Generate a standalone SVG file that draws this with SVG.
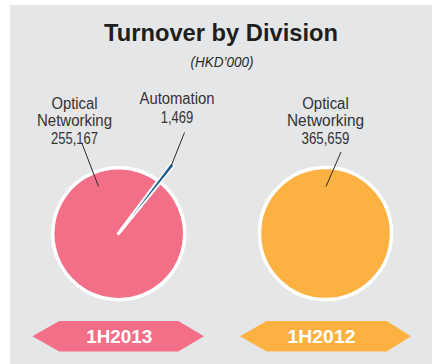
<svg xmlns="http://www.w3.org/2000/svg" width="432" height="364" viewBox="0 0 432 364">
  <style>
    .title { font-family: "Liberation Sans", Arial, sans-serif; font-weight: bold; font-size: 23px; fill: #1e1e1e; }
    .sub { font-family: "Liberation Sans", Arial, sans-serif; font-style: italic; font-size: 14px; fill: #2a2a2a; }
    .lbl { font-family: "Liberation Sans", Arial, sans-serif; font-size: 16px; fill: #333333; text-anchor: middle; }
    .tag { font-family: "Liberation Sans", Arial, sans-serif; font-weight: bold; font-size: 18.5px; fill: #ffffff; text-anchor: middle; }
    .slice { stroke: #ffffff; stroke-width: 3.5; stroke-linejoin: round; }
    .leader { stroke: #2a2a2a; stroke-width: 1; fill: none; }
  </style>

  <!-- panel background -->
  <rect x="10" y="5" width="422" height="359" fill="#e5e6e8"/>

  <g id="title">
    <text class="title" x="104" y="41" textLength="234" lengthAdjust="spacingAndGlyphs">Turnover by Division</text>
    <text class="sub" x="190.5" y="66.5" textLength="63" lengthAdjust="spacingAndGlyphs">(HKD’000)</text>
  </g>

  <!-- 1H2013 pie: Optical Networking with exploded Automation wedge -->
  <g id="pie-1h2013">
    <path class="slice" fill="#f36f88" d="M118.5 233.5 L160.09 182.24 A66 66 0 1 1 158.22 180.79 Z"/>
    <!-- white outline of the pulled-out wedge, then its fill on top -->
    <path fill="#ffffff" stroke="#ffffff" stroke-width="3" stroke-linejoin="round" d="M132.05 216.16 L170.99 164.11 A65 65 0 0 1 173.22 165.86 Z"/>
    <path fill="#1b5e8c" d="M132.05 216.16 L170.99 164.11 A65 65 0 0 1 173.22 165.86 Z"/>
  </g>

  <!-- 1H2012 pie: Optical Networking only -->
  <g id="pie-1h2012">
    <circle cx="325.5" cy="233.5" r="66" fill="#fdb141" stroke="#ffffff" stroke-width="3.5"/>
  </g>

  <g id="label-optical-2013">
    <text class="lbl" x="74.5" y="108.5" textLength="46" lengthAdjust="spacingAndGlyphs">Optical</text>
    <text class="lbl" x="74.5" y="125.5" textLength="75" lengthAdjust="spacingAndGlyphs">Networking</text>
    <text class="lbl" x="74.5" y="143.5" textLength="47" lengthAdjust="spacingAndGlyphs">255,167</text>
  </g>

  <g id="label-automation-2013">
    <text class="lbl" x="177" y="104" textLength="75" lengthAdjust="spacingAndGlyphs">Automation</text>
    <text class="lbl" x="177" y="122.5" textLength="32.5" lengthAdjust="spacingAndGlyphs">1,469</text>
  </g>

  <g id="label-optical-2012">
    <text class="lbl" x="325.5" y="108.5" textLength="46.5" lengthAdjust="spacingAndGlyphs">Optical</text>
    <text class="lbl" x="325.5" y="125.5" textLength="77" lengthAdjust="spacingAndGlyphs">Networking</text>
    <text class="lbl" x="325.5" y="143.5" textLength="48" lengthAdjust="spacingAndGlyphs">365,659</text>
  </g>

  <g id="connectors">
    <line class="leader" x1="82" y1="143.5" x2="98.5" y2="186.5"/>
    <line class="leader" x1="184.5" y1="132.5" x2="171.5" y2="165"/>
    <line class="leader" x1="341" y1="152" x2="326" y2="186.5"/>
  </g>

  <g id="tag-1h2013">
    <polygon fill="#f36f88" points="32.3,336.2 59.3,321 178.3,321 204,336.2 178.3,351.5 59.3,351.5"/>
    <text class="tag" x="119.2" y="342.7" textLength="66" lengthAdjust="spacingAndGlyphs">1H2013</text>
  </g>

  <g id="tag-1h2012">
    <polygon fill="#fdb141" points="240,336.2 266.7,321 386.7,321 411,336.2 386.7,351.5 266.7,351.5"/>
    <text class="tag" x="321.5" y="342.7" textLength="68" lengthAdjust="spacingAndGlyphs">1H2012</text>
  </g>
</svg>
